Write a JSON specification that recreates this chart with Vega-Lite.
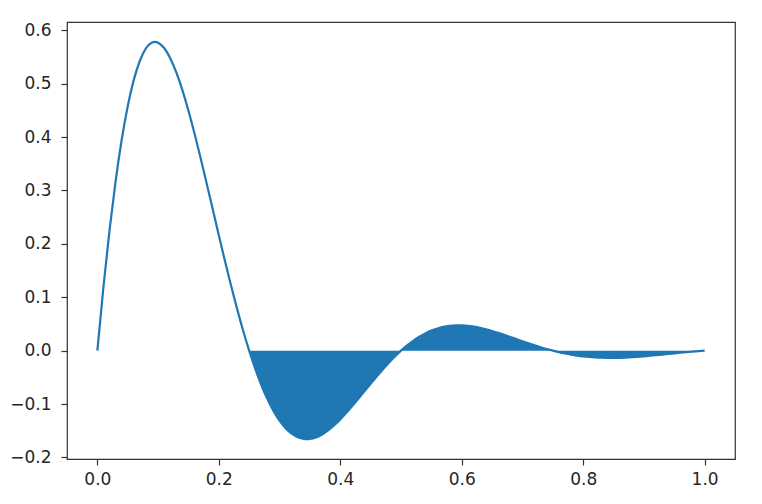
{
  "$schema": "https://vega.github.io/schema/vega-lite/v6.json",
  "width": 668,
  "height": 437,
  "autosize": {"type": "none"},
  "padding": {"left": 67, "top": 22, "right": 27, "bottom": 45},
  "background": "white",
  "config": {
    "view": {"stroke": "#333", "strokeWidth": 1.2},
    "axis": {
      "grid": false,
      "domain": false,
      "tickColor": "#333",
      "tickWidth": 1.2,
      "tickSize": 6,
      "labelFont": "DejaVu Sans",
      "labelFontSize": 17,
      "labelColor": "#262626",
      "title": null
    }
  },
  "data": {
    "values": [
      {"x": 0.00, "y": 0}, {"x": 0.01, "y": 0.11922}, {"x": 0.02, "y": 0.22503}, {"x": 0.03, "y": 0.31685},
      {"x": 0.04, "y": 0.39443}, {"x": 0.05, "y": 0.45777}, {"x": 0.06, "y": 0.50712}, {"x": 0.07, "y": 0.54297},
      {"x": 0.08, "y": 0.56597}, {"x": 0.09, "y": 0.57694}, {"x": 0.10, "y": 0.57685}, {"x": 0.11, "y": 0.56673},
      {"x": 0.12, "y": 0.54773}, {"x": 0.13, "y": 0.52102}, {"x": 0.14, "y": 0.48779}, {"x": 0.15, "y": 0.44925},
      {"x": 0.16, "y": 0.40657}, {"x": 0.17, "y": 0.36088}, {"x": 0.18, "y": 0.31327}, {"x": 0.19, "y": 0.26474},
      {"x": 0.20, "y": 0.21623}, {"x": 0.21, "y": 0.16858}, {"x": 0.22, "y": 0.12254}, {"x": 0.23, "y": 0.07874},
      {"x": 0.24, "y": 0.03775}, {"x": 0.25, "y": 0}, {"x": 0.26, "y": -0.03416}, {"x": 0.27, "y": -0.06447},
      {"x": 0.28, "y": -0.09078}, {"x": 0.29, "y": -0.11301}, {"x": 0.30, "y": -0.13115}, {"x": 0.31, "y": -0.14529},
      {"x": 0.32, "y": -0.15556}, {"x": 0.33, "y": -0.16215}, {"x": 0.34, "y": -0.16530}, {"x": 0.35, "y": -0.16527},
      {"x": 0.36, "y": -0.16237}, {"x": 0.37, "y": -0.15693}, {"x": 0.38, "y": -0.14927}, {"x": 0.39, "y": -0.13975},
      {"x": 0.40, "y": -0.12871}, {"x": 0.41, "y": -0.11648}, {"x": 0.42, "y": -0.10339}, {"x": 0.43, "y": -0.08975},
      {"x": 0.44, "y": -0.07585}, {"x": 0.45, "y": -0.06195}, {"x": 0.46, "y": -0.04830}, {"x": 0.47, "y": -0.03511},
      {"x": 0.48, "y": -0.02256}, {"x": 0.49, "y": -0.01082}, {"x": 0.50, "y": 0}, {"x": 0.51, "y": 0.00979},
      {"x": 0.52, "y": 0.01847}, {"x": 0.53, "y": 0.02601}, {"x": 0.54, "y": 0.03238}, {"x": 0.55, "y": 0.03758},
      {"x": 0.56, "y": 0.04163}, {"x": 0.57, "y": 0.04457}, {"x": 0.58, "y": 0.04646}, {"x": 0.59, "y": 0.04736},
      {"x": 0.60, "y": 0.04735}, {"x": 0.61, "y": 0.04652}, {"x": 0.62, "y": 0.04496}, {"x": 0.63, "y": 0.04277},
      {"x": 0.64, "y": 0.04004}, {"x": 0.65, "y": 0.03688}, {"x": 0.66, "y": 0.03337}, {"x": 0.67, "y": 0.02962},
      {"x": 0.68, "y": 0.02571}, {"x": 0.69, "y": 0.02173}, {"x": 0.70, "y": 0.01775}, {"x": 0.71, "y": 0.01384},
      {"x": 0.72, "y": 0.01006}, {"x": 0.73, "y": 0.00646}, {"x": 0.74, "y": 0.00310}, {"x": 0.75, "y": 0},
      {"x": 0.76, "y": -0.00280}, {"x": 0.77, "y": -0.00529}, {"x": 0.78, "y": -0.00745}, {"x": 0.79, "y": -0.00928},
      {"x": 0.80, "y": -0.01077}, {"x": 0.81, "y": -0.01193}, {"x": 0.82, "y": -0.01277}, {"x": 0.83, "y": -0.01331},
      {"x": 0.84, "y": -0.01357}, {"x": 0.85, "y": -0.01357}, {"x": 0.86, "y": -0.01333}, {"x": 0.87, "y": -0.01288},
      {"x": 0.88, "y": -0.01225}, {"x": 0.89, "y": -0.01147}, {"x": 0.90, "y": -0.01057}, {"x": 0.91, "y": -0.00956},
      {"x": 0.92, "y": -0.00849}, {"x": 0.93, "y": -0.00737}, {"x": 0.94, "y": -0.00623}, {"x": 0.95, "y": -0.00509},
      {"x": 0.96, "y": -0.00396}, {"x": 0.97, "y": -0.00288}, {"x": 0.98, "y": -0.00185}, {"x": 0.99, "y": -0.00089},
      {"x": 1.00, "y": 0}
    ]
  },
  "encoding": {
    "x": {
      "field": "x", "type": "quantitative",
      "scale": {"domain": [-0.05, 1.05], "nice": false, "zero": false},
      "axis": {"values": [0, 0.2, 0.4, 0.6, 0.8, 1.0], "format": ".1f", "labelPadding": 6}
    },
    "y": {
      "field": "y", "type": "quantitative",
      "scale": {"domain": [-0.2029, 0.6155], "nice": false, "zero": false},
      "axis": {"values": [-0.2, -0.1, 0, 0.1, 0.2, 0.3, 0.4, 0.5, 0.6], "format": ".1f", "labelPadding": 10}
    }
  },
  "layer": [
    {
      "transform": [{"filter": "datum.x >= 0.25"}],
      "mark": {"type": "area", "color": "#1f77b4", "opacity": 1, "interpolate": "natural"},
      "encoding": {"y2": {"datum": 0}}
    },
    {
      "mark": {"type": "line", "color": "#1f77b4", "strokeWidth": 2.2, "interpolate": "natural"}
    }
  ]
}
